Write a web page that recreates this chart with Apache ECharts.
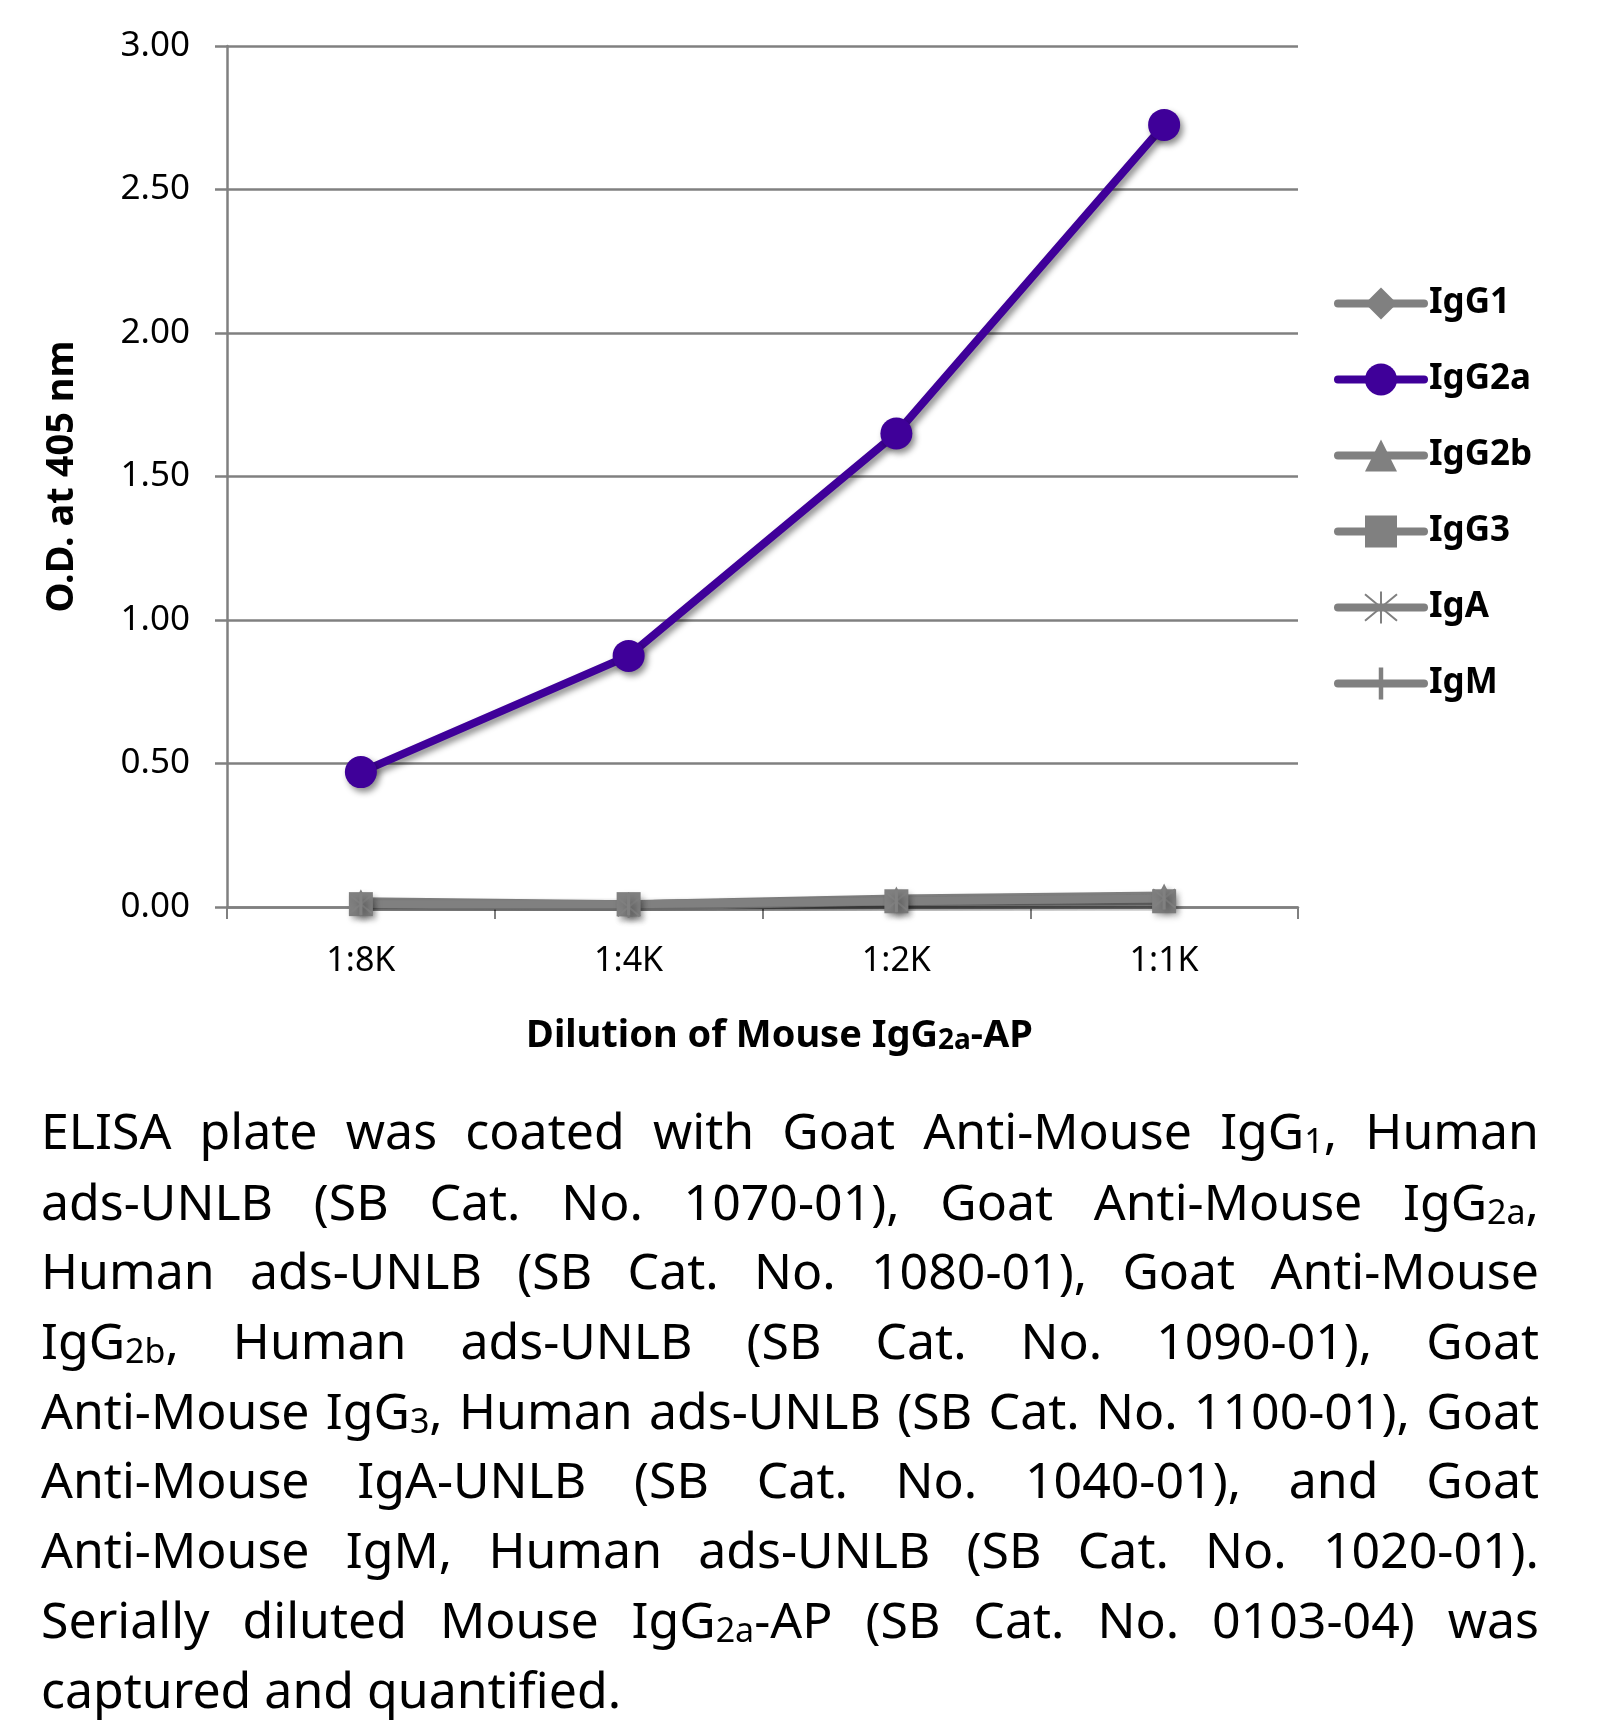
<!DOCTYPE html>
<html>
<head>
<meta charset="utf-8">
<script src="https://cdn.jsdelivr.net/npm/echarts@6/dist/echarts.min.js"></script>
<style>
html,body{margin:0;padding:0;background:#fff;}
#chart{width:1608px;height:1728px;}
</style>
</head>
<body>
<div id="chart"></div>
<script>
// ---- data ----
const categories = ['1:8K', '1:4K', '1:2K', '1:1K'];
const seriesNames = ['IgG1', 'IgG2a', 'IgG2b', 'IgG3', 'IgA', 'IgM'];
const igG1 = [0.01, 0.01, 0.02, 0.03];
const igG2a = [0.47, 0.875, 1.65, 2.725];
const igG2b = [0.02, 0.01, 0.03, 0.04];
const igG3 = [0.01, 0.01, 0.02, 0.02];
const igA = [0.01, 0.00, 0.02, 0.03];
const igM = [0.01, 0.01, 0.02, 0.03];
const yAxisTitle = 'O.D. at 405 nm';
const xAxisTitle = 'Dilution of Mouse IgG{s|2a}-AP';
const captionLines = [
  'ELISA plate was coated with Goat Anti-Mouse IgG{s|1}, Human',
  'ads-UNLB (SB Cat. No. 1070-01), Goat Anti-Mouse IgG{s|2a},',
  'Human ads-UNLB (SB Cat. No. 1080-01), Goat Anti-Mouse',
  'IgG{s|2b}, Human ads-UNLB (SB Cat. No. 1090-01), Goat',
  'Anti-Mouse IgG{s|3}, Human ads-UNLB (SB Cat. No. 1100-01), Goat',
  'Anti-Mouse IgA-UNLB (SB Cat. No. 1040-01), and Goat',
  'Anti-Mouse IgM, Human ads-UNLB (SB Cat. No. 1020-01).',
  'Serially diluted Mouse IgG{s|2a}-AP (SB Cat. No. 0103-04) was',
  'captured and quantified.'
];

// ---- styles ----
const GRAY = '#808080';
const PURPLE = '#3f0099';
const FONT = '"Noto Sans", "Open Sans", sans-serif';

function mkSeries(name, data, color, symbol, size, extraItem) {
  const isMain = name === 'IgG2a';
  const shadow = {shadowColor: isMain ? 'rgba(0,0,0,0.45)' : 'rgba(0,0,0,0.22)', shadowBlur: 6, shadowOffsetX: 3, shadowOffsetY: 4};
  return {
    name, type: 'line', data, symbol, symbolSize: size,
    lineStyle: Object.assign({color, width: 8, cap: 'round'}, shadow),
    itemStyle: Object.assign({color}, shadow, extraItem || {}),
    z: isMain ? 5 : 2
  };
}

const asterisk = 'path://M0,0L10,10M10,0L0,10M5,-1L5,11';
const vbar = 'path://M0,5L0.01,5M4.3,0L5.7,0L5.7,10L4.3,10ZM9.99,5L10,5';

// ---- caption (justified) ----
function buildCaption() {
  const canvas = document.createElement('canvas');
  const ctx = canvas.getContext('2d');
  const F = 50, FS = 34;
  const X0 = 41, W = 1498;
  const ys = [1135, 1206, 1275, 1345, 1415, 1484, 1554, 1624, 1694];
  function mw(str, size) { ctx.font = size + 'px ' + FONT; return ctx.measureText(str).width; }
  function wordWidth(w) {
    let total = 0;
    const re = /\{s\|([^}]*)\}/g;
    let last = 0, m;
    while ((m = re.exec(w))) {
      total += mw(w.slice(last, m.index), F);
      total += mw(m[1], FS);
      last = re.lastIndex;
    }
    total += mw(w.slice(last), F);
    return total;
  }
  const sp = mw(' ', F);
  const lines = captionLines.map(l => {
    const words = l.split(' ');
    const ws = words.map(wordWidth);
    const sum = ws.reduce((a, b) => a + b, 0);
    return {words, ws, sum, natural: sum + sp * (words.length - 1)};
  });
  let s = 1;
  lines.slice(0, lines.length - 1).forEach(L => { s = Math.min(s, W / L.natural); });
  const els = [];
  lines.forEach((L, i) => {
    const justify = i < lines.length - 1;
    const gap = justify ? (W - L.sum * s) / (L.words.length - 1) : sp * s;
    let x = X0;
    L.words.forEach((w, j) => {
      els.push({
        type: 'text', x, y: ys[i], scaleX: s, silent: true,
        style: {
          text: w, fontSize: F, fontFamily: FONT, fill: '#000',
          verticalAlign: 'middle', align: 'left',
          rich: {s: {fontSize: FS, fontFamily: FONT, fill: '#000', verticalAlign: 'bottom'}}
        }
      });
      x += L.ws[j] * s + gap;
    });
  });
  return els;
}

const chart = echarts.init(document.getElementById('chart'), null, {renderer: 'canvas'});
chart.setOption({
  animation: false,
  backgroundColor: '#fff',
  grid: {left: 227, right: 310, top: 46, bottom: 1728 - 907},
  legend: {
    orient: 'vertical', left: 1329, top: 281,
    itemWidth: 86, itemHeight: 40, itemGap: 41,
    data: seriesNames,
    lineStyle: {width: 8, cap: 'round'},
    textStyle: {fontFamily: FONT, fontSize: 35, fontWeight: 'bold', color: '#000', padding: [0, 0, 0, 0]}
  },
  xAxis: {
    type: 'category', data: categories, boundaryGap: true,
    axisLine: {lineStyle: {color: GRAY, width: 2.5}},
    axisTick: {show: true, length: 12, lineStyle: {color: GRAY, width: 2}},
    axisLabel: {fontFamily: FONT, fontSize: 34, color: '#000', margin: 37},
    name: xAxisTitle, nameLocation: 'middle', nameGap: 110,
    nameTextStyle: {
      fontFamily: FONT, fontSize: 38, fontWeight: 'bold', color: '#000', padding: [0, 0, 0, 34],
      rich: {s: {fontFamily: FONT, fontSize: 28, fontWeight: 'bold', color: '#000', verticalAlign: 'bottom'}}
    }
  },
  yAxis: {
    type: 'value', min: 0, max: 3, interval: 0.5,
    axisLine: {show: true, lineStyle: {color: GRAY, width: 2.5}},
    axisTick: {show: true, length: 12, lineStyle: {color: GRAY, width: 2.5}},
    splitLine: {lineStyle: {color: GRAY, width: 2.5}},
    axisLabel: {fontFamily: FONT, fontSize: 35, color: '#000', margin: 37, formatter: v => v.toFixed(2)},
    name: yAxisTitle, nameLocation: 'middle', nameRotate: 90, nameGap: 146,
    nameTextStyle: {fontFamily: FONT, fontSize: 38, fontWeight: 'bold', color: '#000'}
  },
  series: [
    mkSeries('IgG1', igG1, GRAY, 'diamond', 24),
    mkSeries('IgG2b', igG2b, GRAY, 'triangle', 24),
    mkSeries('IgG3', igG3, GRAY, 'rect', 24),
    mkSeries('IgA', igA, GRAY, asterisk, 22, {borderColor: GRAY, borderWidth: 2}),
    mkSeries('IgM', igM, GRAY, vbar, 22),
    mkSeries('IgG2a', igG2a, PURPLE, 'circle', 32)
  ],
  graphic: buildCaption()
});
</script>
</body>
</html>
